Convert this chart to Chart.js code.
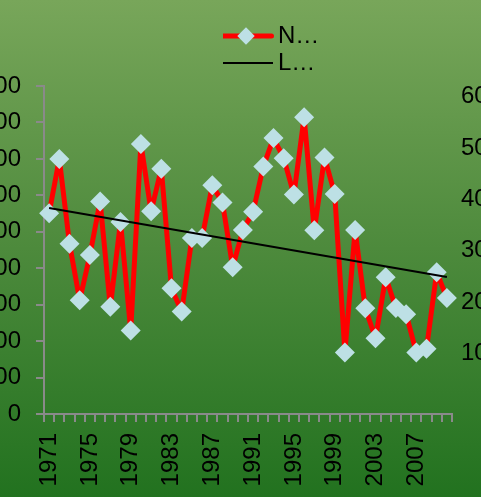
<!DOCTYPE html>
<html>
<head>
<meta charset="utf-8">
<script src="https://cdn.jsdelivr.net/npm/chart.js@4.4.1/dist/chart.umd.min.js"></script>
<style>
  html, body {
    margin: 0;
    padding: 0;
    width: 481px;
    height: 497px;
    overflow: hidden;
    background: linear-gradient(to bottom, #78a65a 0%, #4d8a3c 50%, #22721f 100%);
  }
  #wrap { position: relative; width: 481px; height: 497px; }
  canvas { display: block; }
</style>
</head>
<body>
<div id="wrap"><canvas id="chart" width="481" height="497"></canvas></div>
<script>
// Yearly categories
const years = ['1971','1972','1973','1974','1975','1976','1977','1978','1979','1980',
               '1981','1982','1983','1984','1985','1986','1987','1988','1989','1990',
               '1991','1992','1993','1994','1995','1996','1997','1998','1999','2000',
               '2001','2002','2003','2004','2005','2006','2007','2008','2009','2010'];

// Main series (left axis units)
const seriesN = [551, 700, 467, 312, 436, 583, 294, 527, 229, 741,
                 556, 673, 345, 281, 483, 483, 628, 580, 403, 505,
                 555, 679, 757, 702, 602, 814, 504, 704, 604, 169,
                 505, 290, 208, 375, 291, 274, 169, 179, 389, 318];

// Linear trend: value at the first and at the last year
const trendL = [565, 376];

// Axis ticks
const leftTicks = [0, 100, 200, 300, 400, 500, 600, 700, 800, 900];
const rightTicks = [10, 20, 30, 40, 50, 60];

// Legend captions
const legendNames = ['N…', 'L…'];

const FONT = "'Liberation Sans', Arial, sans-serif";
Chart.defaults.font.family = FONT;
Chart.defaults.font.size = 24;
Chart.defaults.color = '#000000';

const RED = '#ff0000';
const MARKER = '#bde0e5';
const AXIS_GREY = '#8a8a8a';

// Small legend swatches: line with diamond marker, and plain trend line
function legendSwatch(kind) {
  const c = document.createElement('canvas');
  c.width = 60;
  c.height = 24;
  const g = c.getContext('2d');
  if (kind === 'series') {
    g.strokeStyle = RED;
    g.lineWidth = 5;
    g.lineCap = 'round';
    g.beginPath();
    g.moveTo(4.8, 12);
    g.lineTo(55.5, 12);
    g.stroke();
    g.fillStyle = MARKER;
    g.beginPath();
    g.moveTo(30, 3.3);
    g.lineTo(38.7, 12);
    g.lineTo(30, 20.7);
    g.lineTo(21.3, 12);
    g.closePath();
    g.fill();
  } else {
    g.strokeStyle = '#000000';
    g.lineWidth = 2;
    g.beginPath();
    g.moveTo(3, 12);
    g.lineTo(57, 12);
    g.stroke();
  }
  return c;
}

// Places the legend as a narrow two-row block above the plot
const legendPlacement = {
  id: 'legendPlacement',
  afterLayout(chart) {
    const lg = chart.legend;
    if (!lg) return;
    lg.left = 223;
    lg.right = 330;
    lg.width = lg.right - lg.left;
    lg.top = 21;
    lg.bottom = 21 + 60;
    lg.height = 60;
  }
};

new Chart(document.getElementById('chart'), {
  type: 'line',
  data: {
    labels: years,
    datasets: [
      {
        label: legendNames[0],
        data: seriesN,
        yAxisID: 'y',
        borderColor: RED,
        borderWidth: 5,
        borderJoinStyle: 'round',
        tension: 0,
        pointStyle: 'rectRot',
        pointRadius: 10,
        pointHoverRadius: 10,
        pointBackgroundColor: MARKER,
        pointBorderColor: MARKER,
        pointBorderWidth: 0,
        order: 2
      },
      {
        label: legendNames[1],
        data: [{ x: years[0], y: trendL[0] }, { x: years[years.length - 1], y: trendL[1] }],
        yAxisID: 'y',
        borderColor: '#000000',
        borderWidth: 2,
        pointRadius: 0,
        pointHoverRadius: 0,
        tension: 0,
        order: 1
      }
    ]
  },
  options: {
    responsive: false,
    animation: false,
    events: [],
    layout: { padding: { top: 49, left: 0, right: 0, bottom: 0 } },
    plugins: {
      tooltip: { enabled: false },
      legend: {
        display: true,
        position: 'top',
        align: 'start',
        labels: {
          usePointStyle: true,
          pointStyleWidth: 40,
          padding: 3,
          color: '#000000',
          font: { family: FONT, size: 24 },
          generateLabels(chart) {
            return chart.data.datasets.map((ds, i) => ({
              text: ds.label,
              datasetIndex: i,
              hidden: false,
              fillStyle: 'rgba(0,0,0,0)',
              strokeStyle: 'rgba(0,0,0,0)',
              lineWidth: 0,
              pointStyle: legendSwatch(i === 0 ? 'series' : 'trend')
            }));
          }
        }
      }
    },
    scales: {
      x: {
        type: 'category',
        offset: true,
        grid: {
          display: true,
          offset: true,
          drawOnChartArea: false,
          drawTicks: true,
          tickLength: 8,
          color: AXIS_GREY,
          lineWidth: 2
        },
        border: { display: true, color: AXIS_GREY, width: 2 },
        ticks: {
          autoSkip: false,
          minRotation: 90,
          maxRotation: 90,
          padding: 11,
          color: '#000000',
          font: { family: FONT, size: 24 },
          callback(value, index) {
            return index % 4 === 0 ? years[index] : '';
          }
        },
        afterFit(scale) {
          scale.height = 83;
          scale.paddingLeft = 0;
          scale.paddingRight = 0;
        }
      },
      y: {
        position: 'left',
        min: leftTicks[0],
        max: leftTicks[leftTicks.length - 1],
        grid: {
          display: true,
          drawOnChartArea: false,
          drawTicks: true,
          tickLength: 8,
          color: AXIS_GREY,
          lineWidth: 2
        },
        border: { display: true, color: AXIS_GREY, width: 2 },
        ticks: {
          padding: 15,
          color: '#000000',
          font: { family: FONT, size: 24 }
        },
        afterBuildTicks(scale) { scale.ticks = leftTicks.map(v => ({ value: v })); },
        afterFit(scale) { scale.width = 44; }
      },
      y2: {
        position: 'right',
        min: -1.83,
        max: 62.08,
        grid: { display: false, drawOnChartArea: false, drawTicks: false, tickLength: 0 },
        border: { display: false },
        ticks: {
          padding: 9,
          color: '#000000',
          font: { family: FONT, size: 24 }
        },
        afterBuildTicks(scale) { scale.ticks = rightTicks.map(v => ({ value: v })); },
        afterFit(scale) { scale.width = 29; }
      }
    }
  },
  plugins: [legendPlacement]
});
</script>
</body>
</html>
